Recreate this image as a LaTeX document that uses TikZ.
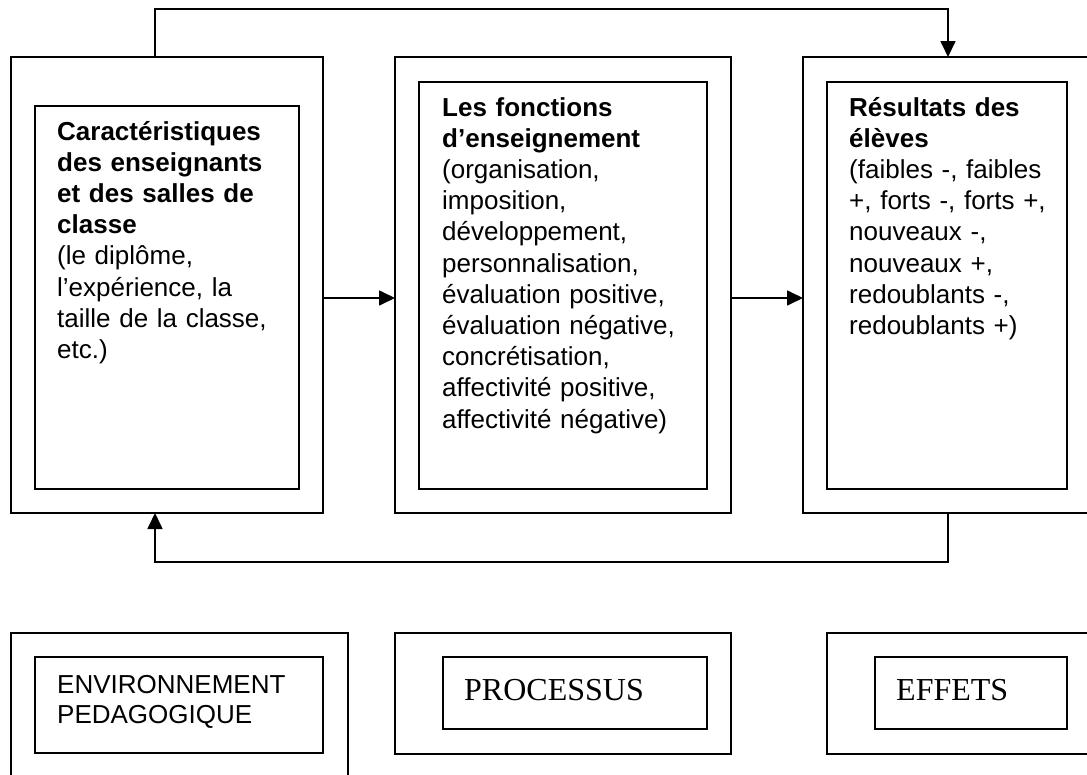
\documentclass[tikz,border=0pt]{standalone}
\usepackage{fontspec}
\setmainfont{Liberation Sans}
\newfontfamily\timesfont{Liberation Serif}
\usetikzlibrary{arrows.meta}
\begin{document}
\begin{tikzpicture}[x=1pt,y=-1pt,
  box/.style={draw, line width=1.7pt, inner sep=0pt, outer sep=0pt, anchor=north west},
  conn/.style={line width=1.7pt, -{Triangle[length=16pt,width=15pt]}},
  txt/.style={anchor=base west, inner sep=0pt, text width=300pt, align=left,
    font={\fontsize{26}{31.2}\selectfont}},
  btxt/.style={anchor=base west, inner sep=0pt, text width=300pt, align=left,
    font={\fontsize{26}{30}\selectfont}},
  ttxt/.style={anchor=base west, inner sep=0pt, font={\timesfont\fontsize{32}{36}\selectfont}}
]
\useasboundingbox (0,0) rectangle (1087,774);
\clip (0,0) rectangle (1087,774);
\fill[white] (0,0) rectangle (1087,774);

% top row
\node[box, minimum width=312pt, minimum height=456pt] (out1) at (11,57) {};
\node[box, minimum width=264pt, minimum height=383pt] (in1) at (35,106) {};
\node[box, minimum width=336pt, minimum height=456pt] (out2) at (395,57) {};
\node[box, minimum width=288pt, minimum height=407pt] (in2) at (419,82) {};
\node[box, minimum width=320pt, minimum height=456pt] (out3) at (803,57) {};
\node[box, minimum width=240pt, minimum height=407pt] (in3) at (827,82) {};

\node[txt] (t1) at (57,140) {\textbf{Caractéristiques}\\\textbf{des enseignants}\\\textbf{et des salles de}\\\textbf{classe}\\(le diplôme,\\l’expérience, la\\taille de la classe,\\etc.)};
\node[txt] (t2) at (442,116) {\textbf{Les fonctions}\\\textbf{d’enseignement}\\(organisation,\\imposition,\\développement,\\personnalisation,\\évaluation positive,\\évaluation négative,\\concrétisation,\\affectivité positive,\\affectivité négative)};
\node[txt] (t3) at (849,116) {\textbf{Résultats des}\\\textbf{élèves}\\(faibles -, faibles\\+, forts -, forts +,\\nouveaux -,\\nouveaux +,\\redoublants -,\\redoublants +)};

% connectors
\coordinate (L) at (155,0);
\coordinate (R) at (948,0);
\coordinate (topy) at (0,9);
\coordinate (boty) at (0,562);
\coordinate (midy) at (0,298);
\draw[conn] (out1.east |- midy) -- (out2.west |- midy);
\draw[conn] (out2.east |- midy) -- (out3.west |- midy);
\draw[conn] (L |- out1.north) -- (L |- topy) -- (R |- topy) -- (R |- out3.north);
\draw[conn] (R |- out3.south) -- (R |- boty) -- (L |- boty) -- (L |- out1.south);

% bottom row
\node[box, minimum width=337pt, minimum height=170pt] (bout1) at (11,633) {};
\node[box, minimum width=288pt, minimum height=96pt] (bin1) at (35,657) {};
\node[box, minimum width=336pt, minimum height=121pt] (bout2) at (395,633) {};
\node[box, minimum width=264pt, minimum height=72pt] (bin2) at (443,657) {};
\node[box, minimum width=300pt, minimum height=121pt] (bout3) at (827,633) {};
\node[box, minimum width=192pt, minimum height=72pt] (bin3) at (875,657) {};

\node[btxt] (bt1) at (57,693) {ENVIRONNEMENT\\PEDAGOGIQUE};
\node[ttxt] (bt2) at (464,700) {PROCESSUS};
\node[ttxt] (bt3) at (896,700) {EFFETS};
\end{tikzpicture}
\end{document}
